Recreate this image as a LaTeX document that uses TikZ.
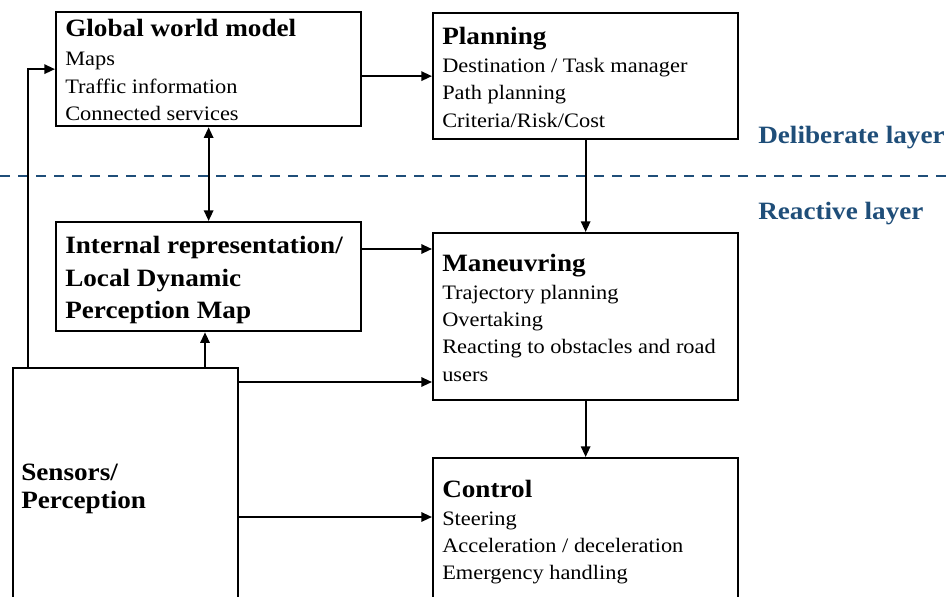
\documentclass[tikz,border=0pt]{standalone}
\usepackage{fontspec}
\setmainfont{Liberation Serif}[FakeStretch=1.09]
\usetikzlibrary{arrows.meta,calc}
\definecolor{layerblue}{RGB}{31,78,121}
\tikzset{
  box/.style={draw, line width=1.7pt, inner sep=0pt, anchor=north west},
  ttl/.style={anchor=base west, inner sep=0pt, font=\fontsize{18.7}{23}\selectfont\bfseries},
  bdy/.style={anchor=base west, inner sep=0pt, font=\fontsize{15.4}{19}\selectfont},
  lyr/.style={anchor=base west, inner sep=0pt, text=layerblue, font=\fontsize{18.7}{23}\selectfont\bfseries},
  arr/.style={line width=1.5pt, -{Triangle[length=8pt,width=7pt]}},
  arrb/.style={line width=1.5pt, {Triangle[length=8pt,width=7pt]}-{Triangle[length=8pt,width=7pt]}},
  layerline/.style={draw=layerblue, line width=1.5pt, dash pattern=on 7.5pt off 6pt},
}
\begin{document}
\begin{tikzpicture}[x=0.75pt,y=-0.75pt]
\useasboundingbox (0,0) rectangle (948,596);
\fill[white] (0,0) rectangle (948,596);
\clip (0,0) rectangle (948,596);

% boxes
\node[box, minimum width=228.75pt, minimum height=85.5pt] (glob) at (55,11) {};
\node[box, minimum width=228.75pt, minimum height=94.5pt] (plan) at (432,12) {};
\node[box, minimum width=228.75pt, minimum height=81.75pt] (intern) at (55,221) {};
\node[box, minimum width=228.75pt, minimum height=125.25pt] (man) at (432,232) {};
\node[box, minimum width=168.75pt, minimum height=195pt] (sens) at (12,367) {};
\node[box, minimum width=228.75pt, minimum height=127.5pt] (ctrl) at (432,457) {};

% layer separation
\coordinate (dl) at (0,176);
\coordinate (dr) at (948,176);
\path[layerline] (dl) -- (dr);
\node[lyr] (lab1) at (758,143) {Deliberate layer};
\node[lyr] (lab2) at (758,219) {Reactive layer};

% texts
\node[ttl] (g0) at (65,36) {Global world model};
\node[bdy] (g1) at (65,65) {Maps};
\node[bdy] (g2) at (65,93) {Traffic information};
\node[bdy] (g3) at (65,120) {Connected services};

\node[ttl] (p0) at (442,44) {Planning};
\node[bdy] (p1) at (442,72) {Destination / Task manager};
\node[bdy] (p2) at (442,99) {Path planning};
\node[bdy] (p3) at (442,127) {Criteria/Risk/Cost};

\node[ttl] (i0) at (65,253) {Internal representation/};
\node[ttl] (i1) at (65,286) {Local Dynamic};
\node[ttl] (i2) at (65,318) {Perception Map};

\node[ttl] (m0) at (442,271) {Maneuvring};
\node[bdy] (m1) at (442,299) {Trajectory planning};
\node[bdy] (m2) at (442,326) {Overtaking};
\node[bdy] (m3) at (442,353) {Reacting to obstacles and road};
\node[bdy] (m4) at (442,381) {users};

\node[ttl] (c0) at (442,497) {Control};
\node[bdy] (c1) at (442,525) {Steering};
\node[bdy] (c2) at (442,552) {Acceleration / deceleration};
\node[bdy] (c3) at (442,579) {Emergency handling};

\node[ttl] (s0) at (21,480) {Sensors/};
\node[ttl] (s1) at (21,508) {Perception};

% connectors
\draw[arr] ($(sens.north west)+(16,0)$) |- (glob.west);
\draw[arr] (glob.east |- plan.west) -- (plan.west);
\draw[arrb] (glob.south) -- (intern.north);
\draw[arr] (plan.south) -- (man.north);
\coordinate (a) at ($(intern.north east)+(0,28)$);
\draw[arr] (a) -- (a -| man.west);
\coordinate (b) at ($(sens.north west)+(193,0)$);
\draw[arr] (b) -- (b |- intern.south);
\coordinate (c) at ($(sens.north east)+(0,15)$);
\draw[arr] (c) -- (c -| man.west);
\coordinate (d) at ($(sens.north east)+(0,150)$);
\draw[arr] (d) -- (d -| ctrl.west);
\draw[arr] (man.south) -- (ctrl.north);
\end{tikzpicture}
\end{document}
